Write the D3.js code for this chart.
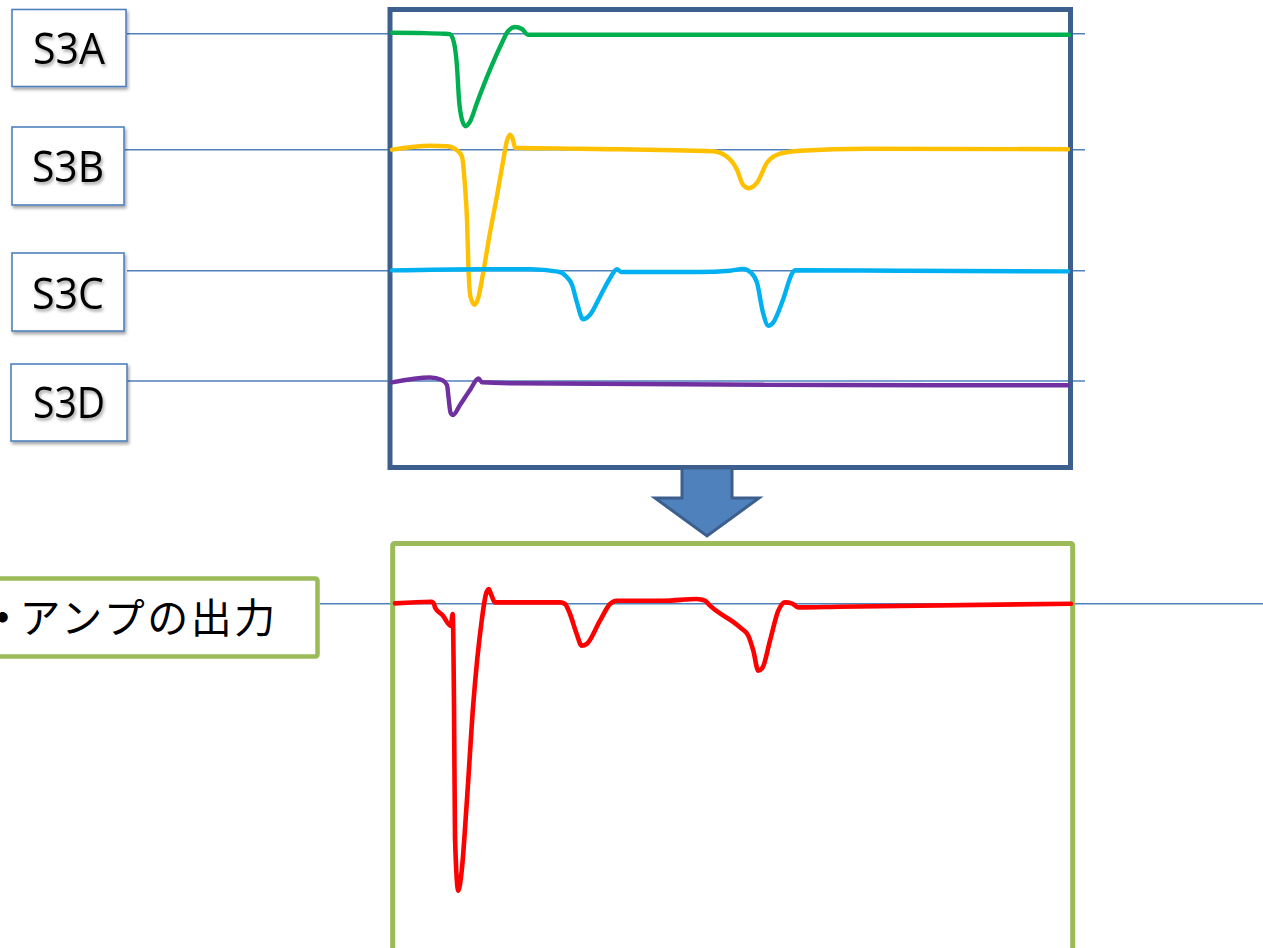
<!DOCTYPE html>
<html>
<head>
<meta charset="utf-8">
<script src="https://cdn.jsdelivr.net/npm/d3@7"></script>
<style>
  html, body { margin: 0; padding: 0; background: #fff; overflow: hidden; }
  svg { display: block; }
</style>
</head>
<body>
<div id="chart"></div>
<script>
(function() {
    // Data: time (t) and signal level (v), per trace
    var traceNames = ["S3A", "S3B", "S3C", "S3D"];
    var outputLabel = ["・", "アンプの出力"];

    var s3aWave = [[0.2, 0.1], [3.0, 0.07], [5.5, 0.0], [6.0, -0.05], [6.4, -0.9], [6.7, -3.3],
        [6.9, -6.6], [7.2, -8.6], [7.55, -9.25], [8.0, -8.8], [8.7, -6.9], [10.0, -3.6],
        [11.2, -0.9], [11.8, 0.25], [12.5, 0.67], [13.2, 0.47], [13.8, -0.1], [21.0, -0.1], [67.9, -0.1]];

    var s3bWave = [[0.2, 0.0], [4.0, 0.4], [5.7, 0.35], [6.8, -0.15], [7.2, -0.7], [7.5, -3.7],
        [7.7, -7.0], [7.85, -12.0], [8.05, -14.7], [8.45, -15.5], [8.8, -14.9], [9.3, -12.4],
        [10.0, -8.3], [10.7, -4.6], [11.3, -1.2], [11.7, 0.9], [12.0, 1.5], [12.3, 1.0], [12.5, 0.2],
        [19.0, 0.1], [32.3, -0.15], [33.7, -0.7], [34.7, -2.0], [35.3, -3.5], [35.9, -3.85],
        [36.7, -3.3], [37.7, -1.3], [39.0, -0.4], [41.0, -0.1], [47.7, 0.1], [67.8, 0.05]];

    var s3cWave = [[0.2, 0.03], [9.0, 0.15], [14.0, 0.15], [16.8, -0.1], [17.6, -0.55], [18.2, -1.4],
        [18.7, -3.2], [19.3, -4.85], [20.0, -4.4], [21.0, -2.6], [22.0, -0.75], [22.7, 0.15],
        [23.1, -0.13], [31.0, -0.13], [34.0, 0.0], [35.3, 0.17], [36.1, -0.2], [36.7, -1.2],
        [37.3, -4.2], [37.83, -5.5], [38.3, -5.2], [39.3, -2.9], [40.25, -0.2], [40.5, 0.05],
        [51.0, 0.0], [67.8, -0.07]];

    var s3dWave = [[0.2, -0.13], [4.0, 0.35], [5.2, 0.1], [5.7, -0.4], [5.85, -1.6], [6.05, -3.15],
        [6.3, -3.4], [7.0, -2.4], [8.0, -0.9], [8.85, 0.25], [9.2, -0.13], [12.3, -0.23],
        [44.0, -0.4], [67.8, -0.43]];

    var outputWave = [[0.5, 0.03], [4.17, 0.2], [4.4, -0.03], [4.5, -0.37], [5.3, -1.2], [6.07, -2.2], [6.27, -1.03],
        [6.4, -10.0], [6.5, -23.37], [6.83, -28.7], [7.17, -26.7], [7.67, -20.0], [8.33, -10.0],
        [9.17, -1.7], [9.6, 0.97], [9.87, 1.47], [10.1, 0.97], [10.5, 0.13], [17.0, 0.13],
        [17.5, -0.03], [18.0, -1.03], [18.67, -3.03], [19.17, -4.2], [19.67, -4.03], [21.0, -1.7],
        [22.0, -0.03], [22.67, 0.3], [27.33, 0.3], [30.67, 0.47], [31.5, 0.3], [32.0, -0.2],
        [35.0, -2.37], [35.83, -3.2], [36.33, -4.7], [36.83, -6.7], [37.27, -6.37], [38.0, -3.7],
        [38.83, -0.7], [39.5, 0.13], [40.17, 0.03], [40.83, -0.37], [45.0, -0.3], [68.1, 0.0]];

    var traceWaves = [s3aWave, s3bWave, s3cWave, s3dWave];

    // Layout
    var width = 1263, height = 948;
    var traceColors = ["#00b050", "#ffc000", "#00b0f0", "#7030a0"];
    var refColor = "#4f81bd", frameColor = "#3c5f8e", greenFrame = "#9bbb59";
    var rows = [
        { box: [12, 9.5, 114, 77], lineY: 33.7, lineX0: 127, textY: 64 },
        { box: [12, 127, 112, 78], lineY: 149.7, lineX0: 125, textY: 182 },
        { box: [12, 253, 112, 78], lineY: 270.7, lineX0: 127, textY: 309 },
        { box: [11, 364, 116, 77], lineY: 381, lineX0: 127, textY: 418 }
    ];
    var outLineY = 603.7;

    var svg = d3.select("#chart")
        .append("svg")
        .attr("width", width)
        .attr("height", height);

    var defs = svg.append("defs");
    var shadow = defs.append("filter")
        .attr("id", "shadow")
        .attr("x", "-20%").attr("y", "-20%")
        .attr("width", "140%").attr("height", "150%");
    shadow.append("feDropShadow")
        .attr("dx", 1.5).attr("dy", 2.5)
        .attr("stdDeviation", 1.8)
        .attr("flood-color", "#000")
        .attr("flood-opacity", 0.35);

    // Scales
    var xScale = d3.scaleLinear().domain([0, 68]).range([390, 1070]);
    var yScale = d3.scaleLinear().domain([0, -10]).range([0, 100]);

    var line = d3.line()
        .x(function(d) { return xScale(d[0]); })
        .y(function(d) { return yScale(d[1]); })
        .curve(d3.curveMonotoneX);

    // Reference lines
    rows.forEach(function(r) {
        svg.append("line")
            .attr("x1", r.lineX0).attr("x2", 1085)
            .attr("y1", r.lineY).attr("y2", r.lineY)
            .attr("stroke", refColor)
            .attr("stroke-width", 1.4);
    });
    svg.append("line")
        .attr("x1", 320).attr("x2", width)
        .attr("y1", outLineY).attr("y2", outLineY)
        .attr("stroke", refColor)
        .attr("stroke-width", 1.4);

    // Label boxes
    rows.forEach(function(r, i) {
        var g = svg.append("g");
        g.append("rect")
            .attr("x", r.box[0]).attr("y", r.box[1])
            .attr("width", r.box[2]).attr("height", r.box[3])
            .attr("fill", "#fff")
            .attr("stroke", refColor)
            .attr("stroke-width", 1.6)
            .attr("filter", "url(#shadow)");
        g.append("text")
            .attr("x", r.box[0] + r.box[2] / 2)
            .attr("y", r.textY)
            .attr("text-anchor", "middle")
            .attr("font-family", "'Open Sans', 'Noto Sans', sans-serif")
            .attr("font-size", 44)
            .attr("textLength", 72)
            .attr("lengthAdjust", "spacingAndGlyphs")
            .attr("fill", "#000")
            .attr("filter", "url(#shadow)")
            .text(traceNames[i]);
    });

    // Output label box (runs off the left edge)
    svg.append("rect")
        .attr("x", -300).attr("y", 578.5)
        .attr("width", 617.5).attr("height", 78)
        .attr("rx", 2)
        .attr("fill", "#fff")
        .attr("stroke", greenFrame)
        .attr("stroke-width", 4.5);
    var outText = svg.append("text")
        .attr("x", -18)
        .attr("y", 633)
        .attr("font-family", "'Noto Sans CJK JP', sans-serif")
        .attr("font-size", 41)
        .attr("letter-spacing", 2.5)
        .attr("fill", "#000");
    outText.append("tspan").attr("font-weight", "bold").text(outputLabel[0]);
    outText.append("tspan").attr("dx", -6).text(outputLabel[1]);

    // Top frame with traces
    svg.append("rect")
        .attr("x", 390).attr("y", 9.5)
        .attr("width", 680.5).attr("height", 458)
        .attr("fill", "none")
        .attr("stroke", frameColor)
        .attr("stroke-width", 5);

    traceWaves.forEach(function(wave, i) {
        svg.append("g")
            .attr("transform", "translate(0," + rows[i].lineY + ")")
            .append("path")
            .datum(wave)
            .attr("d", line)
            .attr("fill", "none")
            .attr("stroke", traceColors[i])
            .attr("stroke-width", 4.4)
            .attr("stroke-linejoin", "round")
            .attr("stroke-linecap", "round");
    });

    // Arrow between frames
    var arrow = [[682, 468], [732, 468], [732, 498], [759, 498], [707, 536], [655, 498], [682, 498]];
    svg.append("polygon")
        .attr("points", arrow.map(function(p) { return p.join(","); }).join(" "))
        .attr("fill", "#4f81bd")
        .attr("stroke", frameColor)
        .attr("stroke-width", 3)
        .attr("stroke-linejoin", "miter");

    // Bottom frame with output trace
    svg.append("rect")
        .attr("x", 392.7).attr("y", 543.5)
        .attr("width", 680).attr("height", 500)
        .attr("rx", 2)
        .attr("fill", "none")
        .attr("stroke", greenFrame)
        .attr("stroke-width", 5);

    svg.append("g")
        .attr("transform", "translate(0," + outLineY + ")")
        .append("path")
        .datum(outputWave)
        .attr("d", line)
        .attr("fill", "none")
        .attr("stroke", "#ff0000")
        .attr("stroke-width", 4.6)
        .attr("stroke-linejoin", "round")
        .attr("stroke-linecap", "round");

})();
</script>
</body>
</html>
